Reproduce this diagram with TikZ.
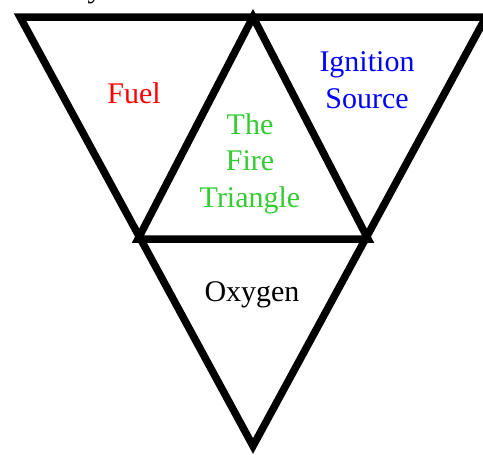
\documentclass[tikz,border=0pt]{standalone}
\usepackage{fontspec}
\setmainfont{Liberation Serif}
\usepackage{tikz}
\definecolor{firegreen}{RGB}{51,204,51}
\definecolor{ignblue}{RGB}{0,0,255}

\begin{document}
\begin{tikzpicture}[
    x=1pt, y=-1pt,
    side/.style={line width=7.5pt, line join=miter},
    lbl/.style={font=\fontsize{30}{36.5}\selectfont, align=center, inner sep=0pt},
  ]
    \useasboundingbox (0,0) rectangle (483,455);
    % corners of the big (upside down) triangle
    \coordinate (tl) at (20,17);
    \coordinate (tr) at (486,17);
    \coordinate (bot) at (253,446);
    % corners of the inner triangle
    \coordinate (apex) at (253,17);
    \coordinate (ml) at (138,239);
    \coordinate (mr) at (368,239);
    \draw[side] (tl) -- (tr) -- (bot) -- cycle;
    \draw[side] (ml) -- (apex) -- (mr) -- cycle;
    % stray letter cut off at the top
    \node[lbl, anchor=base] (stray) at (95,-2) {y};
    \node[lbl, anchor=base, text=red] (fuel) at (134,103) {Fuel};
    \node[lbl, anchor=base, text=ignblue] (ign) at (367,108) {Ignition\\Source};
    \node[lbl, anchor=base, text=firegreen] (fire) at (250,207) {The\\Fire\\Triangle};
    \node[lbl, anchor=base] (oxy) at (252,301) {Oxygen};
  \end{tikzpicture}
\end{document}
